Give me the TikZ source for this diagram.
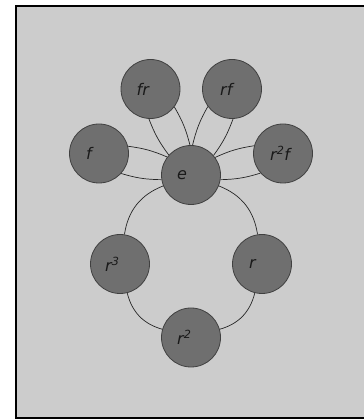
\documentclass[tikz,border=0pt]{standalone}
\usepackage{fontspec}
\setmainfont{DejaVu Sans}
\definecolor{bgc}{RGB}{204,204,204}
\definecolor{nodec}{RGB}{111,111,111}
\begin{document}
\begin{tikzpicture}[x=1pt,y=1pt,
  vtx/.style={circle, draw=black!75, fill=nodec, line width=0.8pt, minimum size=59pt, inner sep=0pt},
  lbl/.style={anchor=west, font=\itshape\fontsize{16}{16}\selectfont, text=black!90, inner sep=0pt},
  edg/.style={draw=black!85, line width=0.7pt}]
\useasboundingbox (0,0) rectangle (363,419);
\fill[white] (0,0) rectangle (363,419);
\draw[fill=bgc, line width=2pt] (16,1) rectangle (372,413);

\node[vtx] (e)   at (191,244) {};
\node[vtx] (fr)  at (150.5,330) {};
\node[vtx] (rf)  at (232,330) {};
\node[vtx] (f)   at (99,265.5) {};
\node[vtx] (rrf) at (283,265.5) {};
\node[vtx] (r3)  at (120,155) {};
\node[vtx] (r1)  at (262,155) {};
\node[vtx] (r2)  at (191,81.5) {};

\node[lbl] (le)   at ([xshift=-14pt]e.center) {e};
\node[lbl] (lfr)  at ([xshift=-14pt]fr.center) {fr};
\node[lbl] (lrf)  at ([xshift=-12pt]rf.center) {rf};
\node[lbl] (lf)   at ([xshift=-13pt]f.center) {f};
\node[lbl] (lrrf) at ([xshift=-13pt]rrf.center) {r\textsuperscript{2}f};
\node[lbl] (lr3)  at ([xshift=-15pt]r3.center) {r\textsuperscript{3}};
\node[lbl] (lr1)  at ([xshift=-13pt]r1.center) {r};
\node[lbl] (lr2)  at ([xshift=-14pt]r2.center) {r\textsuperscript{2}};

\foreach \t/\a in {fr/115.2, rf/64.5, f/166.8, rrf/13.2}{
  \draw[edg] (e.{\a+23}) to[bend left=8] (\t.{\a+180-28});
  \draw[edg] (e.{\a-23}) to[bend right=8] (\t.{\a+180+28});
}
\draw[edg] (e) to[bend right=30] (r3);
\draw[edg] (r3) to[bend right=30] (r2);
\draw[edg] (r2) to[bend right=30] (r1);
\draw[edg] (r1) to[bend right=30] (e);
\end{tikzpicture}
\end{document}
